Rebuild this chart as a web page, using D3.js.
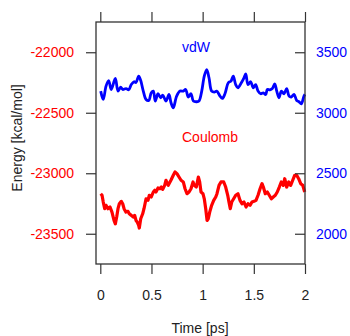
<!DOCTYPE html>
<html>
<head>
<meta charset="utf-8">
<script src="https://cdn.jsdelivr.net/npm/d3@7"></script>
<style>
  html, body { margin: 0; padding: 0; background: #fff; }
  svg { display: block; font-family: "Liberation Sans", Arial, Helvetica, sans-serif; }
</style>
</head>
<body>
<svg id="chart" width="350" height="336"></svg>
<script>
// Time axis (ps)
const timeTicks = [0, 0.5, 1, 1.5, 2];
const timeTickLabels = ["0", "0.5", "1", "1.5", "2"];
// Left axis: Coulomb energy (kcal/mol)
const coulombTicks = [-22000, -22500, -23000, -23500];
// Right axis: vdW energy (kcal/mol)
const vdwTicks = [3500, 3000, 2500, 2000];

// van der Waals energy trace
const vdwTime = [0.004,0.029,0.056,0.082,0.107,0.147,0.173,0.199,0.219,0.251,0.277,0.303,0.329,0.349,0.375,0.395,0.420,0.447,0.473,0.498,0.518,0.537,0.564,0.590,0.610,0.642,0.671,0.691,0.713,0.746,0.779,0.811,0.834,0.860,0.886,0.909,0.942,0.964,0.991,1.016,1.040,1.062,1.088,1.114,1.137,1.170,1.192,1.218,1.251,1.277,1.299,1.323,1.345,1.378,1.404,1.421,1.443,1.469,1.495,1.518,1.541,1.567,1.593,1.616,1.632,1.658,1.681,1.704,1.724,1.746,1.769,1.795,1.821,1.844,1.866,1.893,1.919,1.941,1.964,1.990,2.0];
const vdwEnergy = [3179,3110,3220,3266,3192,3283,3179,3212,3192,3200,3190,3233,3256,3250,3303,3266,3179,3110,3101,3165,3179,3097,3157,3124,3146,3097,3151,3083,3041,3138,3179,3179,3192,3130,3157,3097,3091,3097,3179,3303,3357,3289,3179,3171,3179,3138,3118,3157,3248,3262,3303,3233,3206,3248,3289,3322,3233,3256,3206,3233,3179,3157,3165,3151,3192,3190,3200,3239,3179,3124,3179,3157,3200,3138,3130,3151,3101,3091,3074,3138,3151];

// Coulomb energy trace
const coulombTime = [0.004,0.017,0.029,0.043,0.056,0.075,0.095,0.114,0.134,0.147,0.160,0.173,0.186,0.205,0.219,0.232,0.251,0.271,0.283,0.303,0.322,0.336,0.349,0.361,0.375,0.381,0.395,0.414,0.427,0.447,0.466,0.479,0.498,0.518,0.532,0.544,0.564,0.583,0.596,0.610,0.629,0.642,0.655,0.664,0.690,0.713,0.730,0.749,0.769,0.789,0.811,0.828,0.847,0.867,0.886,0.906,0.918,0.938,0.958,0.971,0.984,1.003,1.016,1.030,1.043,1.055,1.069,1.088,1.108,1.128,1.140,1.160,1.179,1.206,1.225,1.245,1.257,1.270,1.284,1.303,1.323,1.345,1.365,1.384,1.404,1.424,1.443,1.463,1.482,1.502,1.521,1.541,1.561,1.580,1.593,1.612,1.632,1.651,1.671,1.690,1.710,1.729,1.749,1.768,1.788,1.802,1.821,1.841,1.860,1.880,1.899,1.919,1.938,1.958,1.978,1.997];
const coulombEnergy = [-23169,-23182,-23238,-23293,-23265,-23293,-23279,-23321,-23390,-23418,-23362,-23293,-23252,-23232,-23252,-23293,-23321,-23315,-23335,-23348,-23362,-23348,-23390,-23404,-23431,-23453,-23376,-23335,-23293,-23211,-23224,-23182,-23196,-23155,-23141,-23155,-23122,-23128,-23114,-23133,-23100,-23058,-23086,-23100,-23058,-23017,-22989,-23003,-23031,-23058,-23072,-23128,-23169,-23155,-23128,-23072,-23100,-23114,-23031,-23072,-23155,-23169,-23211,-23293,-23390,-23376,-23321,-23265,-23224,-23196,-23169,-23100,-23072,-23072,-23114,-23182,-23238,-23293,-23238,-23211,-23182,-23169,-23224,-23252,-23238,-23279,-23252,-23265,-23238,-23232,-23224,-23182,-23128,-23086,-23114,-23169,-23155,-23182,-23211,-23196,-23182,-23155,-23114,-23072,-23100,-23045,-23114,-23072,-23100,-23058,-23017,-23017,-23045,-23086,-23100,-23155];

const RED = "#ff0000";
const BLUE = "#0000ff";
const AXIS = "#333333";

const svg = d3.select("#chart");
const box = { left: 96, right: 305, top: 22, bottom: 264 };

const x = d3.scaleLinear().domain([-0.042, 2]).range([box.left, box.right]);
const yLeft = d3.scaleLinear().domain([-23750, -21750]).range([box.bottom, box.top]);
const yRight = d3.scaleLinear().domain([1750, 3750]).range([box.bottom, box.top]);

// Data lines
const vdwPts = vdwTime.map((t, i) => [t, vdwEnergy[i]]);
const coulPts = coulombTime.map((t, i) => [t, coulombEnergy[i]]);

svg.append("path")
  .datum(vdwPts)
  .attr("fill", "none")
  .attr("stroke", BLUE)
  .attr("stroke-width", 2.8)
  .attr("stroke-linejoin", "round")
  .attr("d", d3.line().x(d => x(d[0])).y(d => yRight(d[1])).curve(d3.curveCatmullRom));

svg.append("path")
  .datum(coulPts)
  .attr("fill", "none")
  .attr("stroke", RED)
  .attr("stroke-width", 3.2)
  .attr("stroke-linejoin", "round")
  .attr("d", d3.line().x(d => x(d[0])).y(d => yLeft(d[1])));

// Frame
svg.append("rect")
  .attr("x", box.left).attr("y", box.top)
  .attr("width", box.right - box.left).attr("height", box.bottom - box.top)
  .attr("fill", "none").attr("stroke", AXIS).attr("stroke-width", 1.3);

// Bottom axis
const bottomAxis = d3.axisBottom(x).tickValues(timeTicks)
  .tickFormat((d, i) => timeTickLabels[i]).tickSize(10).tickPadding(16);
const gb = svg.append("g").attr("transform", `translate(0,${box.bottom})`).call(bottomAxis);
gb.select(".domain").remove();

// Top axis (ticks only)
const topAxis = d3.axisTop(x).tickValues(timeTicks).tickFormat("").tickSize(10);
const gt = svg.append("g").attr("transform", `translate(0,${box.top})`).call(topAxis);
gt.select(".domain").remove();

// Left axis
const leftAxis = d3.axisLeft(yLeft).tickValues(coulombTicks)
  .tickFormat(d => String(d)).tickSize(10).tickPadding(12);
const gl = svg.append("g").attr("transform", `translate(${box.left},0)`).call(leftAxis);
gl.select(".domain").remove();
gl.selectAll("text").attr("fill", RED);

// Right axis, ticks pointing inward
const rightAxis = d3.axisRight(yRight).tickValues(vdwTicks)
  .tickFormat(d => String(d)).tickSize(0).tickPadding(11);
const gr = svg.append("g").attr("transform", `translate(${box.right},0)`).call(rightAxis);
gr.select(".domain").remove();
gr.selectAll(".tick line").attr("x1", -10).attr("x2", 0);
gr.selectAll("text").attr("fill", BLUE);

svg.selectAll(".tick line").attr("stroke", AXIS).attr("stroke-width", 1.2);
svg.selectAll(".tick text")
  .style("font-family", '"Liberation Sans", Arial, sans-serif')
  .style("font-size", "14px");
gb.selectAll("text").attr("fill", "#222");

// Series labels
svg.append("text").attr("x", 196).attr("y", 51.5)
  .attr("text-anchor", "middle").attr("fill", BLUE).style("font-size", "14px").text("vdW");
svg.append("text").attr("x", 210).attr("y", 141.5)
  .attr("text-anchor", "middle").attr("fill", RED).style("font-size", "14px").text("Coulomb");

// Axis titles
svg.append("text").attr("x", 200).attr("y", 333)
  .attr("text-anchor", "middle").attr("fill", "#222").style("font-size", "14px").text("Time [ps]");
svg.append("text")
  .attr("transform", "translate(22,138) rotate(-90)")
  .attr("text-anchor", "middle").attr("fill", "#222").style("font-size", "14px")
  .text("Energy [kcal/mol]");
</script>
</body>
</html>
